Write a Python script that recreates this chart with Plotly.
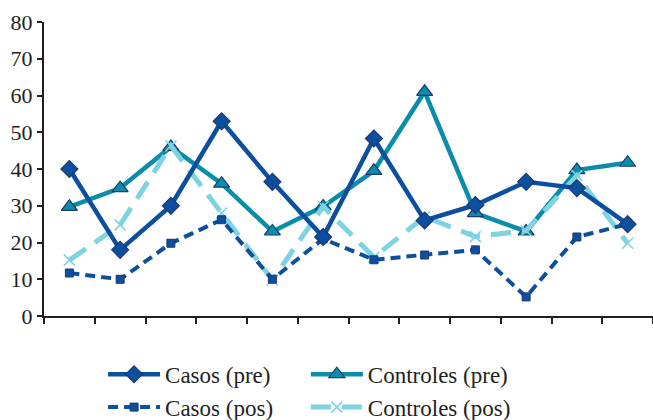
import plotly.graph_objects as go

# Twelve observation points along the x axis (no labels shown)
categories = [str(i) for i in range(1, 13)]

casos_pre = [40, 18, 30, 53, 36.5, 21.5, 48.3, 26, 30.2, 36.5, 34.8, 25]
controles_pre = [29.7, 34.8, 46, 36, 23, 29.8, 39.5, 61, 28, 23, 39.7, 41.7]
casos_pos = [11.7, 10, 19.8, 26.2, 10, 21, 15.3, 16.6, 18, 5.2, 21.5, 25]
controles_pos = [15.2, 24.8, 46.3, 28, 9.8, 29.8, 16, 27, 21.6, 23.2, 38.2, 19.8]

y_ticks = [0, 10, 20, 30, 40, 50, 60, 70, 80]

DARK = "#0c4f9e"
TEAL = "#0a8cab"
LIGHT = "#7ed2e1"
EDGE = "#1b3a72"
INK = "#231f20"
SERIF = "Liberation Serif"

fig = go.Figure()

# Casos series go in the left legend column, Controles in the right one
fig.add_trace(go.Scatter(
    x=categories, y=controles_pre, name="Controles (pre)", legend="legend2",
    legendrank=1, mode="lines+markers",
    line=dict(color=TEAL, width=4.5),
    marker=dict(symbol="triangle-up", size=14, color=TEAL,
                line=dict(color=EDGE, width=1.2)),
))
fig.add_trace(go.Scatter(
    x=categories, y=controles_pos, name="Controles (pos)", legend="legend2",
    legendrank=2, mode="lines+markers",
    line=dict(color=LIGHT, width=5, dash="20px,11px"),
    marker=dict(symbol="x-thin", size=11, color=LIGHT,
                line=dict(color=LIGHT, width=1.5)),
))
fig.add_trace(go.Scatter(
    x=categories, y=casos_pos, name="Casos (pos)", legend="legend",
    legendrank=2, mode="lines+markers",
    line=dict(color=DARK, width=4, dash="10px,6px"),
    marker=dict(symbol="square", size=8, color=DARK,
                line=dict(color=EDGE, width=1)),
))
fig.add_trace(go.Scatter(
    x=categories, y=casos_pre, name="Casos (pre)", legend="legend",
    legendrank=1, mode="lines+markers",
    line=dict(color=DARK, width=4.5),
    marker=dict(symbol="diamond", size=13, color=DARK,
                line=dict(color=EDGE, width=1.2)),
))

legend_style = dict(
    orientation="v", traceorder="normal",
    y=-0.125, yanchor="top", xanchor="left",
    font=dict(size=23, family=SERIF, color=INK),
    itemwidth=52, tracegroupgap=0, bgcolor="rgba(0,0,0,0)",
)

fig.update_layout(
    width=653, height=420,
    margin=dict(l=44, r=0, t=22, b=104, autoexpand=False),
    paper_bgcolor="white", plot_bgcolor="white",
    font=dict(family=SERIF, color=INK),
    showlegend=True,
    legend=dict(x=0.097, **legend_style),
    legend2=dict(x=0.430, **legend_style),
    xaxis=dict(
        type="category", range=[-0.5, 11.5],
        showline=True, linecolor=INK, linewidth=2,
        ticks="outside", tickson="boundaries", ticklen=6,
        tickcolor=INK, tickwidth=2,
        showticklabels=False, showgrid=False, zeroline=False,
    ),
    yaxis=dict(
        range=[0, 80], tickvals=y_ticks,
        showline=True, linecolor=INK, linewidth=2,
        ticks="outside", ticklen=5, tickcolor=INK, tickwidth=2,
        tickfont=dict(size=22, family=SERIF, color=INK),
        showgrid=False, zeroline=False,
    ),
)

fig.write_html("out.html")
